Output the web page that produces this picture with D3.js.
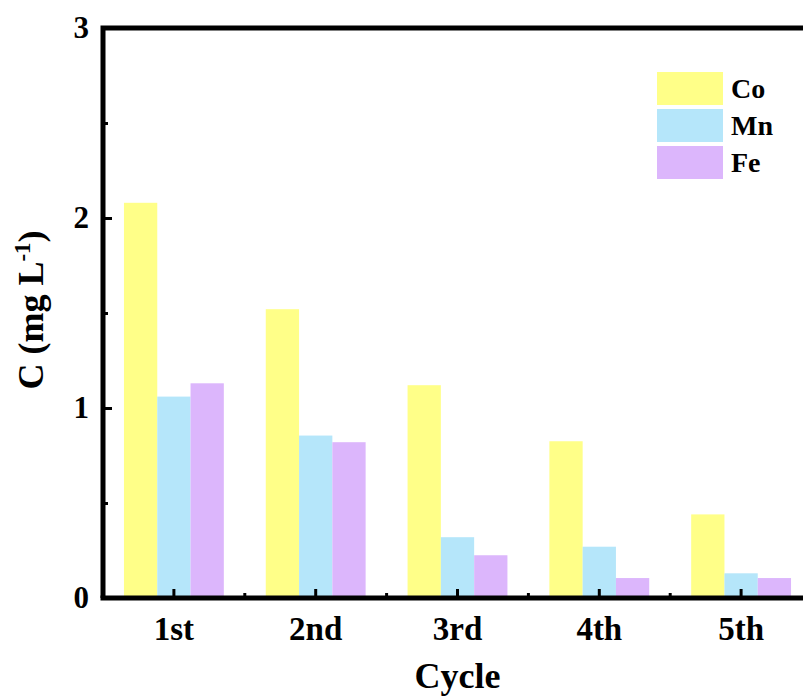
<!DOCTYPE html>
<html lang="en">
<head>
<meta charset="UTF-8">
<title>Cycle</title>
<script src="https://d3js.org/d3.v7.min.js"></script>
<style>
  body { margin: 0; background: #fff; }
  text { font-family: "Liberation Serif", "Times New Roman", serif; font-weight: bold; fill: #000; }
</style>
</head>
<body>
<svg id="chart" width="803" height="698"></svg>
<script>
// data
var cycles = ["1st", "2nd", "3rd", "4th", "5th"];
var series = ["Co", "Mn", "Fe"];
var coVals = [2.08, 1.52, 1.12, 0.825, 0.44];
var mnVals = [1.06, 0.855, 0.32, 0.27, 0.13];
var feVals = [1.13, 0.82, 0.225, 0.105, 0.105];
var yTicks = [0, 1, 2, 3];
var yMinor = [0.5, 1.5, 2.5];
var colors = ["#ffff88", "#b5e6fa", "#dcb6fc"];

var values = [coVals, mnVals, feVals];

var svg = d3.select("#chart");
var plotL = 103, plotT = 28, plotB = 598, plotR = 812;

var x = d3.scaleBand().domain(cycles).range([plotL, plotR]);
var xIn = d3.scaleBand().domain(series).range([0, x.bandwidth()]).paddingOuter(0.63).paddingInner(0);
var y = d3.scaleLinear().domain([0, 3]).range([plotB, plotT]);

// bars
series.forEach(function (s, si) {
    svg.append("g").selectAll("rect")
        .data(values[si])
        .enter().append("rect")
        .attr("x", function (d, i) { return x(cycles[i]) + xIn(s); })
        .attr("y", function (d) { return y(d); })
        .attr("width", xIn.bandwidth())
        .attr("height", function (d) { return y(0) - y(d); })
        .attr("fill", colors[si]);
});

// y axis, ticks inside
svg.append("g").attr("transform", "translate(" + plotL + ",0)")
    .call(d3.axisRight(y).tickValues(yTicks).tickSize(9).tickFormat(""))
    .selectAll(".tick line").attr("stroke-width", 3);
svg.append("g").attr("transform", "translate(" + plotL + ",0)")
    .call(d3.axisRight(y).tickValues(yMinor).tickSize(5).tickFormat(""))
    .selectAll(".tick line").attr("stroke-width", 3);
svg.selectAll(".domain").remove();

svg.append("g").selectAll("text")
    .data(yTicks)
    .enter().append("text")
    .attr("x", 89)
    .attr("y", function (d) { return y(d) + 10; })
    .attr("text-anchor", "end")
    .attr("font-size", 31)
    .text(function (d) { return d; });

// x axis, ticks inside
svg.append("g").selectAll("line")
    .data(cycles)
    .enter().append("line")
    .attr("x1", function (c) { return x(c) + x.bandwidth() / 2; })
    .attr("x2", function (c) { return x(c) + x.bandwidth() / 2; })
    .attr("y1", plotB).attr("y2", plotB - 9)
    .attr("stroke", "#000").attr("stroke-width", 3);
svg.append("g").selectAll("line")
    .data(cycles.slice(1))
    .enter().append("line")
    .attr("x1", function (c) { return x(c); }).attr("x2", function (c) { return x(c); })
    .attr("y1", plotB).attr("y2", plotB - 5)
    .attr("stroke", "#000").attr("stroke-width", 3);

svg.append("g").selectAll("text")
    .data(cycles)
    .enter().append("text")
    .attr("x", function (c) { return x(c) + x.bandwidth() / 2; })
    .attr("y", 640)
    .attr("text-anchor", "middle")
    .attr("font-size", 33)
    .text(function (c) { return c; });

// frame
svg.append("path")
    .attr("d", "M" + plotL + "," + plotB + "V" + plotT + "H" + 803)
    .attr("fill", "none").attr("stroke", "#000").attr("stroke-width", 5);
svg.append("line")
    .attr("x1", plotL - 2.5).attr("x2", 803)
    .attr("y1", plotB).attr("y2", plotB)
    .attr("stroke", "#000").attr("stroke-width", 5);

// axis titles
svg.append("text")
    .attr("x", (plotL + plotR) / 2)
    .attr("y", 688)
    .attr("text-anchor", "middle")
    .attr("font-size", 36)
    .text("Cycle");

var yl = svg.append("text")
    .attr("transform", "translate(43,310) rotate(-90)")
    .attr("text-anchor", "middle")
    .attr("font-size", 36);
yl.append("tspan").text("C (mg L");
yl.append("tspan").attr("dy", -13).attr("font-size", 23).text("-1");
yl.append("tspan").attr("dy", 13).text(")");

// legend
var leg = svg.append("g").attr("transform", "translate(657,72)");
series.forEach(function (s, i) {
    leg.append("rect")
        .attr("x", 0).attr("y", i * 37)
        .attr("width", 66).attr("height", 33)
        .attr("fill", colors[i]);
    leg.append("text")
        .attr("x", 74).attr("y", i * 37 + 26)
        .attr("font-size", 28)
        .text(s);
});
</script>
</body>
</html>
